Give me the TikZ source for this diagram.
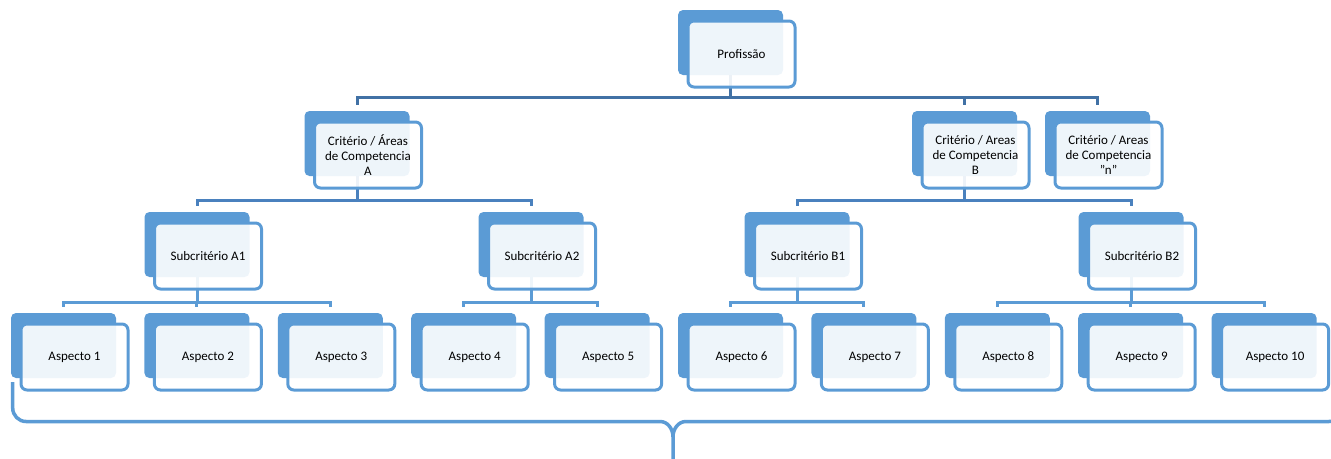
\documentclass[tikz,border=0pt]{standalone}
\usepackage{fontspec}
\setmainfont{Carlito}
\usetikzlibrary{calc,backgrounds}
\definecolor{boxblue}{RGB}{91,155,213}
\definecolor{linedark}{RGB}{65,113,165}
\definecolor{linemid}{RGB}{74,129,190}
\tikzset{
  backbox/.style={rectangle,rounded corners=5pt,fill=boxblue,inner sep=0pt,outer sep=0pt,
    minimum width=105pt,minimum height=65pt,anchor=north west},
  frontbox/.style={rectangle,rounded corners=6pt,draw=boxblue,line width=3pt,fill=white,
    fill opacity=.9,text opacity=1,inner sep=0pt,outer sep=0pt,minimum width=107pt,
    minimum height=66pt,anchor=north west,align=center,font=\fontsize{13}{15}\selectfont},
  conn/.style={line width=3pt,shorten >=6pt},
  bracestyle/.style={draw=boxblue,line width=3.5pt}
}
% back plate and front card of one box
\newcommand\orgbox[4]{%
  \node[backbox] (#1) at ({#2},{#3}) {};
  \node[frontbox] (#1-f) at ([shift={(10,11)}]#1.north west) {#4};
}

\begin{document}
\begin{tikzpicture}[x=1pt,y=-1pt]
\useasboundingbox (0,0) rectangle (1331,458);
\clip (0,0) rectangle (1331,458);

\coordinate (bus1) at (0,97);
\coordinate (bus2) at (0,200);
\coordinate (bus3) at (0,302);

\orgbox{prof}{678}{10}{Profissão}

\orgbox{crA}{304.5}{111}{Critério / Áreas\\de Competencia\\A}
\orgbox{crB}{912}{111}{Critério / Areas\\de Competencia\\B}
\orgbox{crN}{1045}{111}{Critério / Areas\\de Competencia\\"n"}

\orgbox{subA1}{144.5}{212}{Subcritério A1}
\orgbox{subA2}{478.5}{212}{Subcritério A2}
\orgbox{subB1}{744.5}{212}{Subcritério B1}
\orgbox{subB2}{1078.5}{212}{Subcritério B2}

\foreach \i in {1,...,10}
  {\orgbox{asp\i}{11+133.4*(\i-1)}{313}{Aspecto \i}}

\begin{scope}[on background layer]
\foreach \c in {crA,crB,crN}
  \draw[conn,linedark] (prof.south) -- (prof.south |- bus1) -| (\c.north);
\foreach \p/\c in {crA/subA1,crA/subA2,crB/subB1,crB/subB2}
  \draw[conn,linemid] (\p.south) -- (\p.south |- bus2) -| (\c.north);
\foreach \p/\c in {subA1/asp1,subA1/asp2,subA1/asp3,subA2/asp4,subA2/asp5,
    subB1/asp6,subB1/asp7,subB2/asp8,subB2/asp9,subB2/asp10}
  \draw[conn,boxblue] (\p.south) -- (\p.south |- bus3) -| (\c.north);
\end{scope}

% brace under the aspects
\coordinate (tip) at (673,460);
\draw[bracestyle] (12.7,382) -- (12.7,408) to[out=-90,in=180] (26,421.5)
  -- (660,421.5) to[out=0,in=90] (tip |- 0,437) -- (tip);
\draw[bracestyle] (1342,382) -- (1342,408) to[out=-90,in=0] (1329,421.5)
  -- (686,421.5) to[out=180,in=90] (tip |- 0,437);
\end{tikzpicture}
\end{document}
